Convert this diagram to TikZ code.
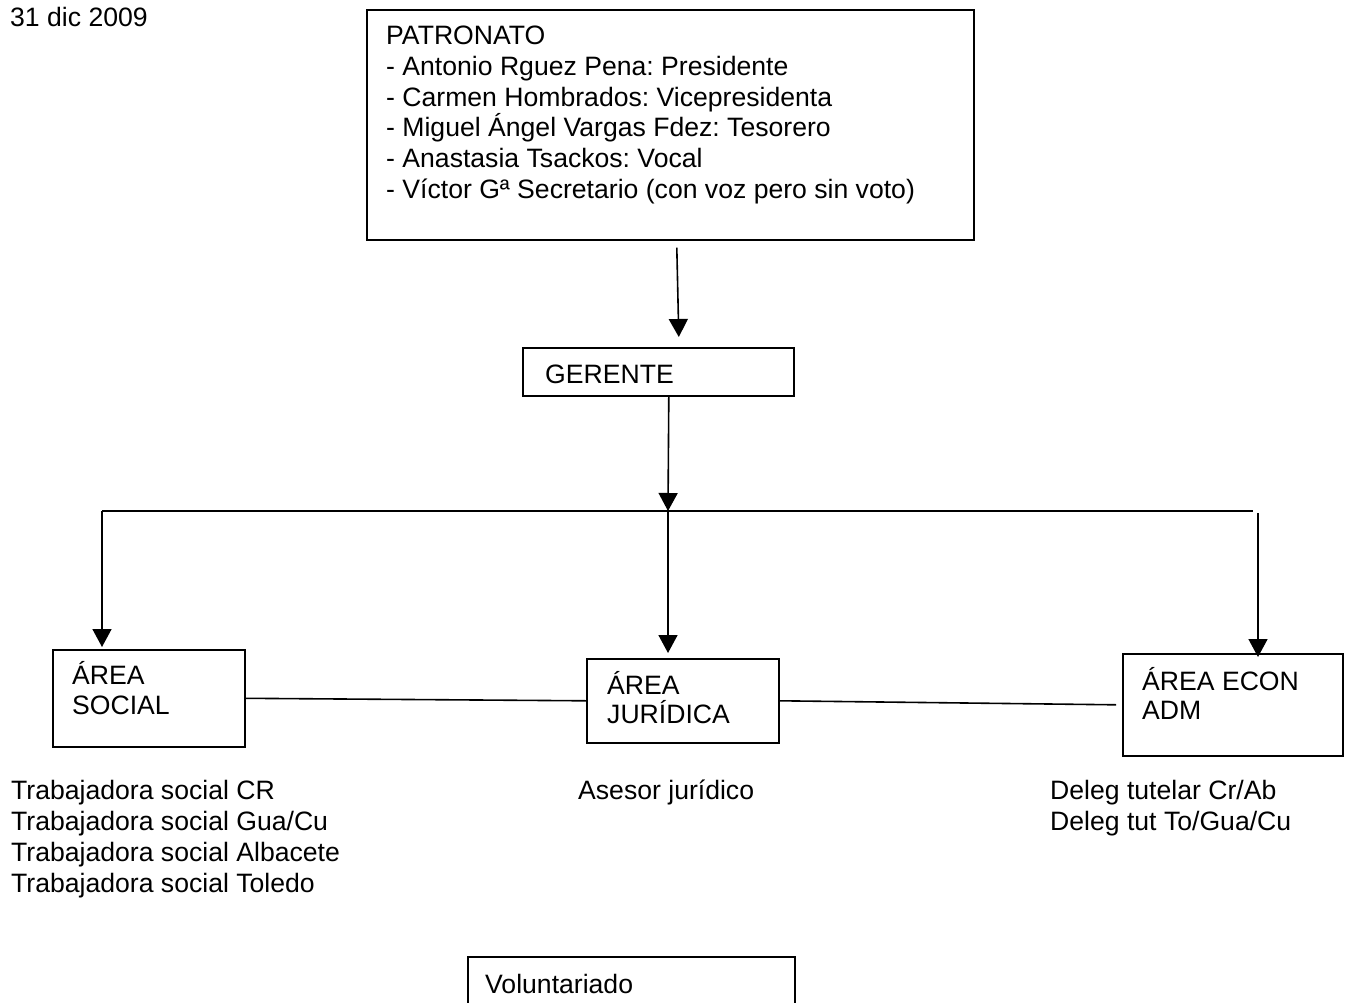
\documentclass[tikz,border=0pt]{standalone}
\usepackage{fontspec}
\setmainfont{Liberation Sans}
\usetikzlibrary{arrows.meta}
\frenchspacing
\begin{document}
\begin{tikzpicture}[x=1pt,y=-1pt,
  every node/.style={font=\fontsize{26.6}{31}\selectfont},
  box/.style={draw,line width=1.6pt,rectangle,inner sep=0pt,anchor=north west},
  txt/.style={anchor=base west,inner sep=0pt},
  conn/.style={line width=1.6pt},
  arr/.style={line width=1.6pt,-{Triangle[length=18pt,width=19pt]}}]
\useasboundingbox (0,0) rectangle (1349,1003);
% date
\node[txt] (date) at (10,27) {31 dic 2009};
% boxes
\node[box,minimum width=607pt,minimum height=230pt] (pat) at (366,9) {};
\node[box,minimum width=271pt,minimum height=48pt] (ger) at (522,347) {};
\node[box,minimum width=192pt,minimum height=97pt] (soc) at (52,649) {};
\node[box,minimum width=192pt,minimum height=84pt] (jur) at (586,658) {};
\node[box,minimum width=220pt,minimum height=102pt] (eco) at (1122,653) {};
\node[box,minimum width=327pt,minimum height=80pt] (vol) at (467,956) {};
% box texts
\node[txt] (p1) at (386,45) {PATRONATO};
\node[txt] (p2) at (386,76) {- Antonio Rguez Pena: Presidente};
\node[txt] (p3) at (386,107) {- Carmen Hombrados: Vicepresidenta};
\node[txt] (p4) at (386,137) {- Miguel Ángel Vargas Fdez: Tesorero};
\node[txt] (p5) at (386,168) {- Anastasia Tsackos: Vocal};
\node[txt] (p6) at (386,199) {- Víctor Gª Secretario (con voz pero sin voto)};
\node[txt] (g1) at (545,383) {GERENTE};
\node[txt] (s1) at (72,684) {ÁREA};
\node[txt] (s2) at (72,714) {SOCIAL};
\node[txt] (j1) at (607,694) {ÁREA};
\node[txt] (j2) at (607,723) {JURÍDICA};
\node[txt] (e1) at (1142,690) {ÁREA ECON};
\node[txt] (e2) at (1142,719) {ADM};
\node[txt] (v1) at (485,993) {Voluntariado};
% lists below
\node[txt] (t1) at (11,799) {Trabajadora social CR};
\node[txt] (t2) at (11,830) {Trabajadora social Gua/Cu};
\node[txt] (t3) at (11,861) {Trabajadora social Albacete};
\node[txt] (t4) at (11,892) {Trabajadora social Toledo};
\node[txt] (a1) at (578,799) {Asesor jurídico};
\node[txt] (d1) at (1050,799) {Deleg tutelar Cr/Ab};
\node[txt] (d2) at (1050,830) {Deleg tut To/Gua/Cu};
% connectors
\coordinate (hl) at (102,511);
\coordinate (hub) at (668,511);
\coordinate (hr) at (1253,511);
\coordinate (rv) at (1258,513);
\draw[arr] ([xshift=6.5pt,yshift=-7pt]pat.south) -- ([xshift=20.5pt,yshift=10pt]ger.north);
\draw[arr] ([xshift=10.5pt]ger.south) -- (hub);
\draw[conn] (hl) -- (hr);
\draw[arr] (hl) -- ([yshift=2pt]hl |- soc.north);
\draw[arr] (hub) -- ([yshift=5pt]hub |- jur.north);
\draw[arr] (rv) -- ([yshift=-4pt]rv |- eco.north);
\draw[conn] (soc.east) -- (jur.west);
\draw[conn] (jur.east) -- ([xshift=-6pt]eco.west);
\end{tikzpicture}
\end{document}
